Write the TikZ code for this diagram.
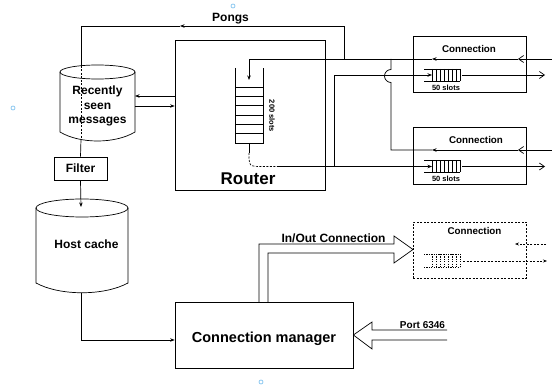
\documentclass[tikz,border=0pt]{standalone}
\usepackage{fontspec}
\setmainfont{Liberation Sans}
\usetikzlibrary{arrows.meta}
\begin{document}
\begin{tikzpicture}[x=1pt,y=-1pt,line width=0.7pt,
  box/.style={draw,inner sep=0pt,minimum width=#1},
  sarrow/.style={-{Stealth[length=4.5pt,width=3.5pt]}},
  barb/.style={-{Straight Barb[length=5pt,width=7pt]}},
  txtL/.style={font=\fontsize{12}{14.5}\selectfont\bfseries,inner sep=0pt},
  txtXL/.style={font=\fontsize{17}{20}\selectfont\bfseries,inner sep=0pt},
  txtCM/.style={font=\fontsize{14.5}{17}\selectfont\bfseries,inner sep=0pt},
  txtC/.style={font=\fontsize{9.8}{12}\selectfont\bfseries,inner sep=0pt},
  txtS/.style={font=\fontsize{7.5}{9}\selectfont\bfseries,inner sep=0pt},
  txtP/.style={font=\fontsize{10}{12}\selectfont\bfseries,inner sep=0pt},
  bluedot/.style={draw={rgb,255:red,140;green,200;blue,240},line width=0.8pt}
]
\useasboundingbox (0,0) rectangle (552,385);

% ---------- boxes ----------
\node[box=150pt,minimum height=150pt] (router) at (250,115) {};
\node[box=53pt,minimum height=23pt] (filter) at (80.5,168.5) {};
\node[box=178pt,minimum height=66pt] (cm) at (264,335) {};
\node[box=113pt,minimum height=56pt] (conn1) at (469.5,64) {};
\node[box=113pt,minimum height=57pt] (conn2) at (469.5,155.5) {};
\node[box=113pt,minimum height=56pt,dashed,dash pattern=on 2pt off 1.5pt] (conn3) at (469.5,250) {};

% ---------- cylinders ----------
\draw (60,72) -- (60,132) .. controls (80,144) and (115,144) .. (135,132) -- (135,72);
\draw (97.5,72) ellipse [x radius=37.5, y radius=7];
\draw (36,208) -- (36,283) .. controls (60,296) and (104,296) .. (128,283) -- (128,208);
\draw (82,208) ellipse [x radius=46, y radius=9];

% ---------- labels ----------
\node[txtL,align=center] (rsm) at (97.5,106) {Recently\\seen\\messages};
\node[txtL,anchor=base] (hc) at (86.5,248) {Host cache};
\node[txtL,anchor=base] (filterlbl) at (80.5,173) {Filter};
\node[txtXL,anchor=base] (routerlbl) at (248,185) {Router};
\node[txtCM,anchor=base] (cmlbl) at (264,342) {Connection manager};
\node[txtL,anchor=base] (pongs) at (230.5,21.5) {Pongs};
\node[txtL,anchor=base] (io) at (333.5,243) {In/Out Connection};
\node[txtP,anchor=base] (port) at (422.5,328) {Port 6346};
\node[txtC,anchor=base] (c1lbl) at (469,52.5) {Connection};
\node[txtC,anchor=base] (c2lbl) at (476,144) {Connection};
\node[txtC,anchor=base] (c3lbl) at (474.5,235) {Connection};
\node[txtS,anchor=base] (s1) at (446,91) {50 slots};
\node[txtS,anchor=base] (s2) at (446,182) {50 slots};
\node[txtS,rotate=-90] (s200) at (272,116) {200 slots};

% ---------- router queue ----------
\draw (235,68) -- (235,143) -- (263,143) -- (263,68);
\foreach \y in {87,96.3,105.7,115,124.3,133.7}
  \draw (235,\y) -- (263,\y);
\coordinate (rq-top) at (249,80);
\coordinate (rq-bot) at (249,143);

% ---------- connection queues ----------
\foreach \n/\y in {q1/75, q2/166.5}{
  \draw (424,\y-6) -- (460,\y-6);
  \draw (424,\y+6) -- (460,\y+6);
  \foreach \x in {432,436,440,444,448,452,456,460}
    \draw (\x,\y-6) -- (\x,\y+6);
  \coordinate (\n-in) at (432,\y);
  \coordinate (\n-out) at (462,\y);
}
\begin{scope}[dash pattern=on 1.2pt off 1.2pt]
  \draw (424,254) -- (460,254);
  \draw (424,267) -- (460,267);
  \foreach \x in {432,436,440,444,448,452,456,460}
    \draw (\x,254) -- (\x,267);
\end{scope}
\coordinate (q3-out) at (463,261);

% ---------- coordinates ----------
\coordinate (e1) at (552,59);
\coordinate (e2) at (552,150);
\coordinate (b1) at (518,59);
\coordinate (b2) at (518,150);
\coordinate (m1) at (432,59);
\coordinate (m2) at (432,150);
\coordinate (o1) at (545,75);
\coordinate (o2) at (545,166.5);
\coordinate (jt) at (249,59);
\coordinate (pj) at (344,59);
\coordinate (pa) at (180,26);
\coordinate (rsx) at (135,96);
\coordinate (rsy) at (135,106);
\coordinate (hcb) at (81,293);
\coordinate (hctop) at (81,207);

% ---------- connection inputs ----------
\draw[barb] (e1) -- (b1);
\draw[sarrow] (b1) -- (m1);
\draw[sarrow] (m1) -- (jt) -- (rq-top);
\draw[barb] (e2) -- (b2);
\draw[sarrow] (b2) -- (m2);
\draw (m2) -- (391,150) -- (391,82.5) arc[start angle=90,end angle=270,radius=6.5] -- (391,59);

% ---------- connection outputs ----------
\draw[barb] (q1-out) -- (o1);
\draw[barb] (q2-out) -- (o2);

% ---------- router output ----------
\draw (rq-bot) -- (249,153);
\draw[dash pattern=on 2pt off 1.5pt] (249,153) .. controls (249,166.5) .. (263,166.5) -- (278,166.5);
\draw[sarrow] (278,166.5) -- (q2-in);
\draw[sarrow] (334,166.5) -- (334,75) -- (q1-in);

% ---------- pongs ----------
\draw[sarrow] (pj) -- (344,26) -- (pa);
\draw (pa) -- (81,26) -- (81,66);
\draw[dash pattern=on 2pt off 1.5pt] (81,66) -- (81,139);
\draw (81,139) -- (filter.north);
\draw[sarrow] (filter.south) -- (hctop);

% ---------- recently seen <-> router ----------
\draw[sarrow] (router.west |- rsx) -- (rsx);
\draw[sarrow] (rsy) -- (router.west |- rsy);

% ---------- host cache -> connection manager ----------
\draw[sarrow] (hcb) -- (81,340) -- (cm.west |- 0,340);

% ---------- hollow arrows ----------
\draw (259,302) -- (259,244) -- (394,244) -- (394,236) -- (413,249.5)
  -- (394,263) -- (394,253) -- (268,253) -- (268,302);
\draw (447,330) -- (372,330) -- (372,322) -- (cm.east) -- (372,349) -- (372,340) -- (447,340);

% ---------- dashed connection lines ----------
\draw[dash pattern=on 2pt off 1.5pt,-{Stealth[length=4pt,width=3pt]}] (546,244) -- (515,244);
\draw[dash pattern=on 2pt off 1.5pt,-{Stealth[length=4pt,width=3pt]}] (q3-out) -- (547,261);

% ---------- markers ----------
\draw[bluedot] (13,108) circle[radius=2];
\draw[bluedot] (233,6) circle[radius=2];
\draw[bluedot] (261,382) circle[radius=2];
\end{tikzpicture}
\end{document}
